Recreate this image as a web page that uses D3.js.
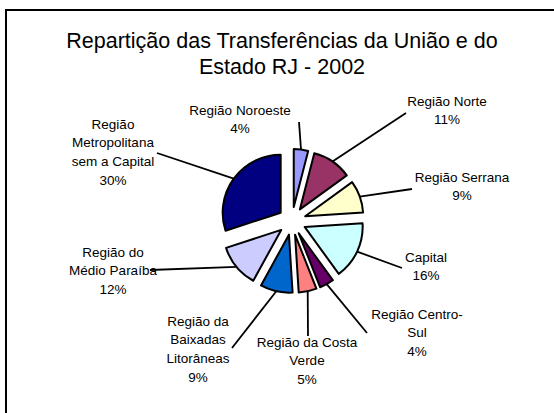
<!DOCTYPE html>
<html>
<head>
<meta charset="utf-8">
<script src="https://cdn.jsdelivr.net/npm/d3@7"></script>
<style>
  body { margin: 0; background: #fff; }
  text { font-family: "Liberation Sans", Arial, sans-serif; fill: #000; }
</style>
</head>
<body>
<div id="chart"></div>
<script>
// data
var categories = ["Região Noroeste", "Região Norte", "Região Serrana", "Capital", "Região Centro-Sul",
    "Região da Costa Verde", "Região da Baixadas Litorâneas", "Região do Médio Paraíba",
    "Região Metropolitana sem a Capital"];
var values = [4, 11, 9, 16, 4, 5, 9, 12, 30];
var colors = ["#9999FF", "#993366", "#FFFFCC", "#CCFFFF", "#660066", "#FF8080", "#0066CC", "#CCCCFF", "#000080"];
var titleLines = ["Repartição das Transferências da União e do", "Estado RJ - 2002"];

// how each label is broken over lines in the picture
var labelLines = [["Região Noroeste"], ["Região Norte"], ["Região Serrana"], ["Capital"],
    ["Região Centro-", "Sul"], ["Região da Costa", "Verde"], ["Região da", "Baixadas", "Litorâneas"],
    ["Região do", "Médio Paraíba"], ["Região", "Metropolitana", "sem a Capital"]];

var width = 554, height = 413;
var cx = 292, cy = 221, radius = 58, explode = 14;
var lineH = 18.7;

// label boxes: centre x, first line y, leader end point
var labelPos = [
    {x: 240, y: 110, ex: 299, ey: 122},
    {x: 447, y: 101, ex: 406, ey: 113},
    {x: 462, y: 177, ex: 412, ey: 189},
    {x: 426, y: 257, ex: 402, ey: 268},
    {x: 417, y: 314, ex: 367, ey: 333},
    {x: 307, y: 342, ex: 308, ey: 336},
    {x: 198, y: 321, ex: 232, ey: 348},
    {x: 113, y: 252, ex: 150, ey: 270},
    {x: 113, y: 124, ex: 157, ey: 153}
];

var svg = d3.select("#chart").append("svg").attr("width", width).attr("height", height);

// chart frame (runs off the right and bottom edge)
svg.append("rect").attr("x", 6).attr("y", 10).attr("width", width).attr("height", height)
    .attr("fill", "none").attr("stroke", "#000").attr("stroke-width", 2);

svg.selectAll(".title").data(titleLines).enter().append("text")
    .attr("class", "title")
    .attr("x", 282)
    .attr("y", function(d, i) { return 41 + i * 26; })
    .attr("text-anchor", "middle")
    .attr("dominant-baseline", "central")
    .attr("font-size", 21.5)
    .text(function(d) { return d; });

var pie = d3.pie().sort(null).value(function(d) { return d; });
var arcs = pie(values);
var arc = d3.arc().innerRadius(0).outerRadius(radius);

function mid(d) { return (d.startAngle + d.endAngle) / 2; }

var g = svg.append("g").attr("transform", "translate(" + cx + "," + cy + ")");

// leader lines: from slice rim at mid angle to the label
g.selectAll(".leader").data(arcs).enter().append("line")
    .attr("class", "leader")
    .attr("x1", function(d) { return (radius + explode) * Math.sin(mid(d)); })
    .attr("y1", function(d) { return -(radius + explode) * Math.cos(mid(d)); })
    .attr("x2", function(d, i) { return labelPos[i].ex - cx; })
    .attr("y2", function(d, i) { return labelPos[i].ey - cy; })
    .attr("stroke", "#000").attr("stroke-width", 1.8);

g.selectAll(".slice").data(arcs).enter().append("path")
    .attr("class", "slice")
    .attr("transform", function(d) {
        var a = mid(d);
        return "translate(" + explode * Math.sin(a) + "," + (-explode * Math.cos(a)) + ")";
    })
    .attr("d", arc)
    .attr("fill", function(d, i) { return colors[i]; })
    .attr("stroke", "#000").attr("stroke-width", 2).attr("stroke-linejoin", "round");

var labels = svg.selectAll(".label").data(arcs).enter().append("text")
    .attr("class", "label")
    .attr("text-anchor", "middle")
    .attr("font-size", 13.5);

labels.each(function(d, i) {
    var lines = labelLines[i].concat([values[i] + "%"]);
    d3.select(this).selectAll("tspan").data(lines).enter().append("tspan")
        .attr("x", labelPos[i].x)
        .attr("y", function(t, j) { return labelPos[i].y + j * lineH; })
        .attr("dominant-baseline", "central")
        .text(function(t) { return t; });
});
</script>
</body>
</html>
